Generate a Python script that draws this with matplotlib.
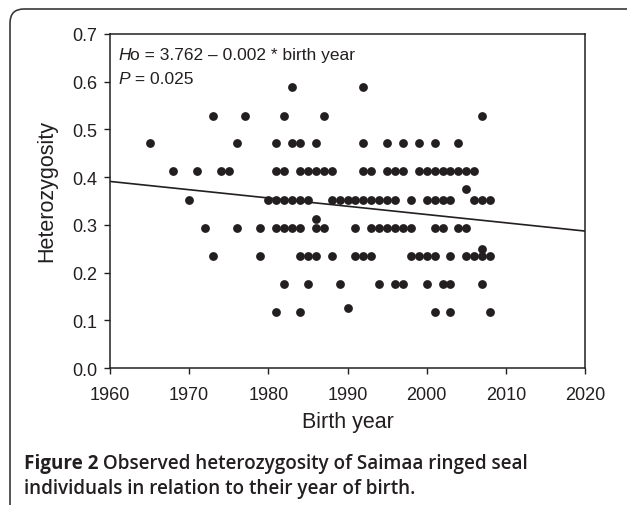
import matplotlib
matplotlib.use("Agg")
import matplotlib.pyplot as plt
from matplotlib.patches import FancyBboxPatch
from matplotlib.transforms import IdentityTransform

# ---- data ----
years_h0588 = [1983, 1992]
years_h0529 = [1973, 1977, 1982, 1987, 2007]
years_h0471 = [1965, 1976, 1981, 1983, 1984, 1986, 1992, 1995, 1997, 1999, 2001, 2004]
years_h0412 = [1968, 1971, 1974, 1975, 1981, 1982, 1984, 1985, 1986, 1987, 1988, 1992,
               1993, 1995, 1996, 1997, 1999, 2000, 2001, 2002, 2003, 2004, 2005, 2006]
years_h0375 = [2005]
years_h0353 = [1970, 1980, 1981, 1982, 1983, 1984, 1985, 1988, 1989, 1990, 1991, 1992,
               1993, 1994, 1995, 1996, 1998, 2000, 2001, 2002, 2003, 2006, 2007, 2008]
years_h0313 = [1986]
years_h0294 = [1972, 1976, 1979, 1981, 1982, 1983, 1984, 1986, 1987, 1991, 1993, 1994,
               1995, 1996, 1997, 1998, 2001, 2002, 2004, 2005]
years_h0250 = [2007]
years_h0235 = [1973, 1979, 1984, 1985, 1986, 1988, 1991, 1992, 1993, 1998, 1999, 2000,
               2001, 2003, 2005, 2006, 2007, 2008]
years_h0176 = [1982, 1985, 1989, 1994, 1996, 1997, 2000, 2002, 2003, 2007]
years_h0125 = [1990]
years_h0118 = [1981, 1984, 2001, 2003, 2008]

ho_levels = [0.588, 0.529, 0.471, 0.412, 0.375, 0.353, 0.3125, 0.294, 0.25, 0.235, 0.176, 0.125, 0.118]
year_groups = [years_h0588, years_h0529, years_h0471, years_h0412, years_h0375, years_h0353,
               years_h0313, years_h0294, years_h0250, years_h0235, years_h0176, years_h0125, years_h0118]

birth_year = []
heterozygosity = []
for lvl, yrs in zip(ho_levels, year_groups):
    birth_year += yrs
    heterozygosity += [lvl] * len(yrs)

# regression line endpoints
line_x = [1960, 2020]
line_y = [0.391, 0.287]

x_ticks = [1960, 1970, 1980, 1990, 2000, 2010, 2020]
y_ticks = [0.0, 0.1, 0.2, 0.3, 0.4, 0.5, 0.6, 0.7]

# ---- figure ----
W, H = 627, 506
fig = plt.figure(figsize=(W / 100, H / 100), dpi=100)
plt.rcParams['font.family'] = ['Liberation Sans', 'DejaVu Sans']
dark = '#231f20'

def fx(px):
    return px / W

def fy(py):
    return 1 - py / H

# outer rounded frame
frame = FancyBboxPatch((10, -30), 660, H - 10 + 30,
                       boxstyle="round,pad=0,rounding_size=14",
                       transform=IdentityTransform(), fill=False,
                       ec='#3a3a3a', lw=1.2, clip_on=False)
fig.add_artist(frame)

ax = fig.add_axes([fx(110), fy(369), fx(585) - fx(110), fy(35) - fy(369)])
ax.scatter(birth_year, heterozygosity, s=40, color=dark, zorder=3, linewidths=0)
ax.plot(line_x, line_y, color=dark, lw=1.2, zorder=2)

ax.set_xlim(1960, 2020)
ax.set_ylim(0.0, 0.7)
ax.set_xticks(x_ticks)
ax.set_yticks(y_ticks)
ax.set_yticklabels([f"{v:.1f}" for v in y_ticks])
ax.tick_params(direction='out', length=4, width=1.0, colors=dark, labelsize=13, pad=5)
ax.tick_params(axis='x', pad=9)
for sp in ax.spines.values():
    sp.set_linewidth(1.1)
    sp.set_color(dark)

fig.text(fx(47), fy(191), "Heterozygosity", rotation=90, ha='center', va='center',
         fontsize=15.5, color=dark)
fig.text(fx(347.5), fy(423), "Birth year", ha='center', va='center',
         fontsize=15.5, color=dark)

# annotation inside the axes
t1 = fig.text(fx(118), fy(60), "H", fontstyle='italic', fontsize=12.5, color=dark,
              ha='left', va='baseline')
ax.annotate("o = 3.762 \u2013 0.002 * birth year", xy=(1, 0), xycoords=t1,
            va='bottom', ha='left', fontsize=12.5, color=dark)
t2 = fig.text(fx(118), fy(84), "P", fontstyle='italic', fontsize=12.5, color=dark,
              ha='left', va='baseline')
ax.annotate(" = 0.025", xy=(1, 0), xycoords=t2,
            va='bottom', ha='left', fontsize=12.5, color=dark)

# caption
cap_font = ['Open Sans', 'DejaVu Sans']
cap_size = 13.6
c1 = fig.text(fx(24), fy(469), "Figure 2", fontweight='bold', fontsize=cap_size,
              family=cap_font, color=dark, ha='left', va='baseline')
ax.annotate(" Observed heterozygosity of Saimaa ringed seal", xy=(1, 0), xycoords=c1,
            va='bottom', ha='left', fontsize=cap_size, family=cap_font, fontweight='semibold',
            color=dark)
fig.text(fx(24), fy(494), "individuals in relation to their year of birth.",
         fontsize=cap_size, family=cap_font, fontweight='semibold', color=dark,
         ha='left', va='baseline')

fig.savefig("out.png", dpi=100)
